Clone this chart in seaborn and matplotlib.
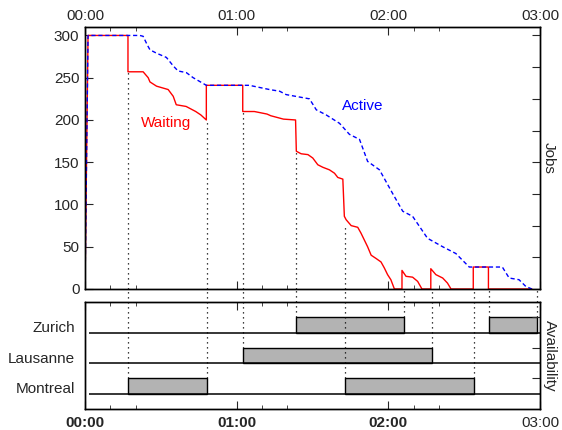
import numpy as np
import pandas as pd
import seaborn as sns
import matplotlib.pyplot as plt

# --- data (time in minutes since 00:00) ---
waiting_t = [0, 1.2, 17, 17, 23, 25, 25.7, 28.3, 32.9, 34.9, 36.1, 40, 43.8, 45.8, 48, 48,
             62.4, 62.4, 67, 72, 73.5, 76, 78.5, 83.3, 83.6, 85.5, 88.2, 90.1, 92.1, 94.1,
             96.7, 98.7, 100, 102, 102.6, 103.3, 105.3, 107.9, 109.2, 110.5, 111.8, 113.2,
             115.2, 117.1, 118.4, 119.7, 121, 122.4, 125.4, 125.4, 127, 129.6, 131.6, 133.3,
             136.8, 136.8, 138.8, 141.5, 143.4, 144.8, 153.6, 153.6, 159.6, 159.6, 176.8]
waiting_v = [0, 300, 300, 257, 257, 250, 245, 240, 236, 228, 218, 216, 210, 206, 200, 241,
             241, 210, 210, 207, 205, 203, 201, 200, 163, 160, 159, 155, 147, 144,
             141, 137, 132, 130, 86, 82, 75, 73, 66, 58, 50, 40,
             36, 32, 25, 17, 11, 0, 0, 22, 15, 14, 9, 0,
             0, 24, 17, 13, 7, 0, 0, 26, 26, 0, 0]

active_t = [0, 1.2, 21.7, 23, 24.6, 25.7, 28.3, 32.2, 34.9, 36.8, 40.1, 42.8, 48, 65, 73, 77,
            79.6, 88.8, 91.5, 95.4, 100.7, 104.6, 108.6, 111.8, 116.5, 121.7, 125.7, 129.6,
            135.5, 141.5, 146.7, 152, 165.1, 167.8, 171.7, 174.4, 176.8]
active_v = [0, 300, 300, 299, 289, 283, 279, 274, 264, 258, 256, 250, 241, 241, 236, 234,
            230, 225, 212, 206, 196, 183, 177, 151, 141, 113, 92, 86,
            60, 50, 42, 26, 26, 13, 11, 3, 0]

# events where the dotted guide starts on the waiting curve
guide_t = [17, 48.2, 62.4, 83.6, 103]
guide_v = [257, 200, 210, 162, 75]

# site availability intervals (start, end) in minutes
sites = ["Montreal", "Lausanne", "Zurich"]
site_up = {
    "Montreal": [(17, 48.2), (103, 154)],
    "Lausanne": [(62.4, 137.4)],
    "Zurich": [(83.6, 126), (160, 179)],
}

hour_ticks = [0, 60, 120, 180]
hour_labels = ["00:00", "01:00", "02:00", "03:00"]
minor_ticks = [10, 20, 70, 80, 130, 140]

sns.set_style("ticks")
plt.rcParams['font.family'] = ['Liberation Sans', 'DejaVu Sans']
plt.rcParams['font.size'] = 11

fig = plt.figure(figsize=(5.62, 4.30), dpi=100)
ax = fig.add_axes([85 / 562, 141 / 430, 455 / 562, 262 / 430])
axb = fig.add_axes([85 / 562, 21 / 430, 455 / 562, 107 / 430])

# --- jobs panel ---
wait_df = pd.DataFrame({"t": waiting_t, "jobs": waiting_v})
act_df = pd.DataFrame({"t": active_t, "jobs": active_v})
sns.lineplot(data=wait_df, x="t", y="jobs", sort=False, estimator=None,
             color="#ff0000", lw=1.0, ax=ax)
sns.lineplot(data=act_df, x="t", y="jobs", sort=False, estimator=None,
             color="#0000ff", lw=1.0, linestyle=(0, (3, 2)), ax=ax)
ax.vlines(guide_t, 0, guide_v, colors="black", linestyles=(0, (1, 3)), lw=0.9)

ax.text(32, 196, "Waiting", color="#ff0000", ha="center", va="center")
ax.text(109.7, 216, "Active", color="#0000ff", ha="center", va="center")

ax.set_xlim(0, 180)
ax.set_ylim(0, 310)
ax.set_xlabel("")
ax.set_ylabel("")
ax.set_yticks(range(0, 301, 50))
ax.set_xticks(hour_ticks)
ax.set_xticklabels(hour_labels)
ax.set_xticks(minor_ticks, minor=True)
ax.tick_params(axis="x", which="both", direction="in", top=True, bottom=True,
               labeltop=True, labelbottom=False, pad=3)
ax.tick_params(axis="x", which="major", length=6)
ax.tick_params(axis="x", which="minor", length=3)
ax.tick_params(axis="y", direction="in", length=6, pad=4)

ax2 = ax.twinx()
ax2.set_ylim(ax.get_ylim())
ax2.set_yticks(np.arange(0, 301, 37.5))
ax2.set_yticklabels([])
ax2.tick_params(axis="y", direction="in", length=6)
ax2.set_ylabel("Jobs", rotation=270, labelpad=8)

# --- availability panel ---
for i, site in enumerate(sites):
    axb.hlines(i + 0.5, 1.6, 180, colors="black", lw=1.1)
    for start, end in site_up[site]:
        axb.bar(start, 0.5, width=end - start, bottom=i + 0.5, align="edge",
                color="#b3b3b3", edgecolor="black", lw=1.0)
        axb.vlines([start, end], i + 1, 3.93, colors="black",
                   linestyles=(0, (1, 3)), lw=0.9, clip_on=False)

axb.set_xlim(0, 180)
axb.set_ylim(0, 3.5)
axb.set_yticks([0.7, 1.7, 2.7])
axb.set_yticklabels(sites)
axb.tick_params(axis="y", length=0, pad=7)
axb.set_xticks(hour_ticks)
axb.set_xticklabels(hour_labels)
for lab in axb.get_xticklabels()[:3]:
    lab.set_fontweight("bold")
axb.set_xticks(minor_ticks, minor=True)
axb.tick_params(axis="x", which="both", direction="in", top=True, bottom=True, pad=5)
axb.tick_params(axis="x", which="major", length=6)
axb.tick_params(axis="x", which="minor", length=3)

axb2 = axb.twinx()
axb2.set_ylim(axb.get_ylim())
axb2.set_yticks([1, 2, 3])
axb2.set_yticklabels([])
axb2.tick_params(axis="y", direction="in", length=6)
axb2.set_ylabel("Availability", rotation=270, labelpad=9)

for a in (ax, ax2, axb, axb2):
    for s in a.spines.values():
        s.set_visible(True)
        s.set_linewidth(1.0)
        s.set_color("black")

fig.savefig("out.png", dpi=100)
